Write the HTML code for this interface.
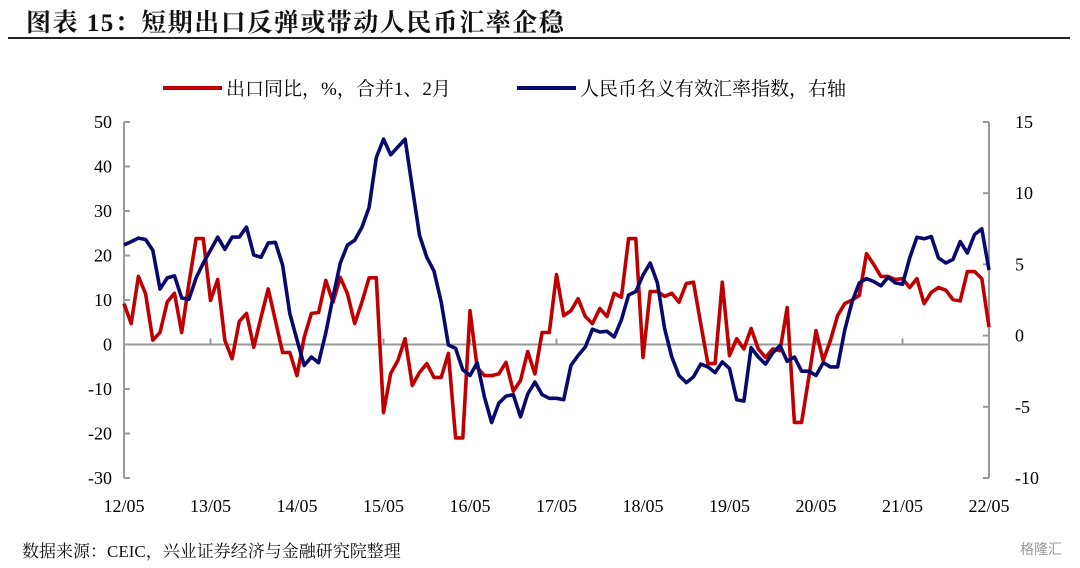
<!DOCTYPE html>
<html><head><meta charset="utf-8">
<style>
body{margin:0;background:#fff;width:1080px;height:568px;overflow:hidden;font-family:"Liberation Serif","Noto Serif CJK SC",serif;}
#title{position:absolute;left:26px;top:3px;font-size:25px;font-weight:bold;color:#111;font-family:"Liberation Serif","Noto Serif CJK SC",serif;letter-spacing:1.5px;white-space:nowrap}
#rule{position:absolute;left:8px;top:37px;width:1062px;height:2px;background:#222}
#src{position:absolute;left:22px;top:537px;font-size:17px;color:#111}
#wm{position:absolute;right:18px;top:539px;font-size:14px;color:#999;font-family:"Liberation Sans","Noto Sans CJK SC",sans-serif}
svg{position:absolute;left:0;top:0}
</style></head><body>
<div id="title">图表 15：短期出口反弹或带动人民币汇率企稳</div>
<div id="rule"></div>
<svg id="chart" width="1080" height="568"></svg>
<div id="src">数据来源：CEIC，兴业证券经济与金融研究院整理</div>
<div id="wm">格隆汇</div>
<script>
const xLabels=["12/05","13/05","14/05","15/05","16/05","17/05","18/05","19/05","20/05","21/05","22/05"];
const leftTicks=[50,40,30,20,10,0,-10,-20,-30];
const rightTicks=[15,10,5,0,-5,-10];
const exportYoY=[9.2,4.7,15.3,11.4,1,2.7,9.6,11.5,2.7,13.7,23.8,23.8,9.9,14.6,0.9,-3.2,5.2,7,-0.6,6.1,12.5,5.4,-1.8,-1.8,-7,1.6,7,7.2,14.4,9.5,15.1,11.4,4.7,9.5,15,15,-15.3,-6.5,-3.6,1.3,-9.2,-6.3,-4.3,-7.4,-7.4,-2,
-21,-21,7.6,-5.2,-7,-7,-6.6,-4,-10.5,-8.1,-1.6,-6.6,2.7,2.7,15.7,6.5,7.6,10.3,6.3,4.7,8.1,6.3,11.5,10.6,23.8,23.8,-2.9,11.9,11.9,10.8,11.5,9.5,13.7,14,4.7,-4.3,-4.3,14,
-2.5,1.3,-1,3.6,-1,-2.9,-1,-1.4,8.3,-17.5,-17.5,-7.4,3.1,-3.6,0.9,6.5,9.2,10,11,20.4,18,15.3,15.3,14.6,14.8,12.8,14.8,9.2,11.7,12.8,12.2,10.1,9.8,16.4,16.4,14.8,3.9];
const neerIdx=[6.36,6.6,6.85,6.75,6.0,3.27,4.05,4.2,2.64,2.55,4.05,5.1,6.0,6.92,6.05,6.92,6.92,7.62,5.66,5.5,6.5,6.55,4.95,1.55,-0.3,-2.1,-1.5,-1.9,0.2,2.7,5.1,6.36,6.7,7.6,9.0,12.5,13.8,12.7,13.25,13.8,10.4,7.05,5.5,4.53,2.36,-0.66,
-0.9,-2.4,-2.8,-1.9,-4.3,-6.1,-4.75,-4.25,-4.15,-5.7,-4.1,-3.26,-4.15,-4.4,-4.4,-4.5,-2.1,-1.4,-0.8,0.45,0.25,0.3,-0.1,1.1,2.85,3.1,4.25,5.1,3.7,0.5,-1.5,-2.8,-3.3,-2.9,-2.0,-2.2,-2.6,-1.85,
-2.3,-4.5,-4.6,-0.85,-1.5,-2.0,-1.2,-0.7,-1.8,-1.5,-2.5,-2.5,-2.8,-1.9,-2.2,-2.2,0.4,2.36,3.7,4.0,3.8,3.5,4.1,3.7,3.6,5.45,6.9,6.8,6.95,5.45,5.1,5.35,6.6,5.8,7.1,7.5,4.6];

const X0=124,X1=989,Y0=122,Y1=478;
const nM=120;
const xs=i=>X0+(X1-X0)*i/nM;
const yl=v=>Y0+(50-v)/80*(Y1-Y0);
const yr=v=>Y0+(15-v)/25*(Y1-Y0);
const svg=document.getElementById('chart');
const NS='http://www.w3.org/2000/svg';
function mk(t,a,p){const e=document.createElementNS(NS,t);for(const k in a)e.setAttribute(k,a[k]);(p||svg).appendChild(e);return e;}
const ax={stroke:'#999','stroke-width':2,fill:'none'};
let e;
e=mk('line',Object.assign({x1:X0,y1:Y0,x2:X0,y2:Y1},ax));


e=mk('line',Object.assign({x1:X1,y1:Y0,x2:X1,y2:Y1},ax));


e=mk('line',Object.assign({x1:X0,y1:yl(0),x2:X1,y2:yl(0)},ax));


leftTicks.forEach(v=>{
 mk('line',Object.assign({x1:X0,y1:yl(v),x2:X0+6,y2:yl(v)},ax));
 e=mk('text',{x:X0-12,y:yl(v)+6,'text-anchor':'end','font-size':18,fill:'#000'});
 e.textContent=v;
 
 
});
rightTicks.forEach(v=>{
 mk('line',Object.assign({x1:X1-6,y1:yr(v),x2:X1,y2:yr(v)},ax));
 e=mk('text',{x:X1+26,y:yr(v)+6,'text-anchor':'start','font-size':18,fill:'#000'});
 e.textContent=v;
 
 
});
xLabels.forEach((l,i)=>{
 const x=xs(i*12);
 mk('line',Object.assign({x1:x,y1:yl(0)-6,x2:x,y2:yl(0)},ax));
 e=mk('text',{x:x,y:512,'text-anchor':'middle','font-size':18,fill:'#000'});
 e.textContent=l;
 
 
});
function line(arr,f,col,name){
 const d=arr.map((v,i)=>(i?'L':'M')+xs(i).toFixed(1)+' '+f(v).toFixed(1)).join(' ');
 const p=mk('path',{d:d,stroke:col,'stroke-width':3.6,fill:'none','stroke-linejoin':'round'});
 
 
}
line(exportYoY,yl,'#c00000','export-yoy-line');
line(neerIdx,yr,'#0a0a6e','neer-index-line');
e=mk('line',{x1:163,y1:88,x2:222,y2:88,stroke:'#c00000','stroke-width':4});


e=mk('text',{x:226,y:95,'font-size':19,fill:'#000','font-family':'"Liberation Serif","Noto Serif CJK SC",serif'});
e.textContent='出口同比，%，合并1、2月';


e=mk('line',{x1:517,y1:88,x2:576,y2:88,stroke:'#0a0a6e','stroke-width':4});


e=mk('text',{x:580,y:95,'font-size':19,fill:'#000','font-family':'"Liberation Serif","Noto Serif CJK SC",serif'});
e.textContent='人民币名义有效汇率指数，右轴';


</script>
</body></html>
